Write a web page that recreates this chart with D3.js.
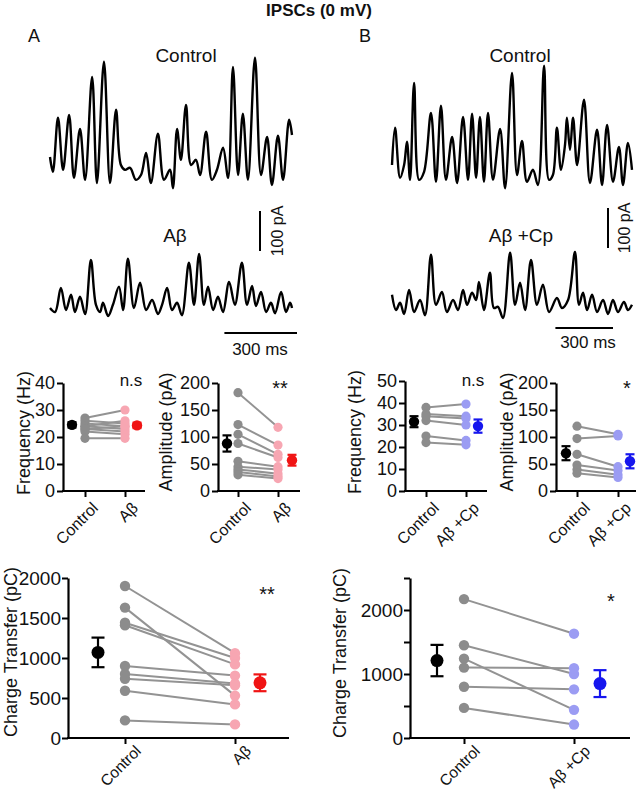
<!DOCTYPE html>
<html><head><meta charset="utf-8">
<script src="https://cdn.jsdelivr.net/npm/d3@7"></script>
<style>
body{margin:0;background:#fff}
svg{display:block}
text{font-family:"Liberation Sans",Arial,Helvetica,sans-serif;fill:#111}
</style>
</head><body>
<svg id="c" width="638" height="793"></svg>
<script>
// ---------------- DATA ----------------
// Example traces: vertices [time ms, current pA]
const traceA_control = [[0,70],[12,33],[33,168],[54,38],[79,175],[99,18],[124,140],[145,13],[174,270],[194,5],[223,308],[248,5],[273,188],[293,50],[310,38],[331,43],[355,13],[376,25],[397,80],[417,5],[446,128],[471,13],[496,38],[508,-8],[525,140],[541,63],[562,200],[583,50],[603,63],[620,25],[645,133],[669,13],[690,38],[715,93],[736,18],[756,295],[777,25],[797,178],[818,13],[847,318],[872,25],[897,120],[917,0],[942,123],[963,13],[988,163],[1000,125]];
const traceA_abeta = [[0,10],[21,0],[45,60],[66,5],[87,43],[103,0],[124,38],[145,-5],[169,130],[190,18],[207,0],[219,23],[240,-10],[260,18],[285,63],[302,5],[322,133],[347,10],[372,73],[397,5],[422,30],[446,-5],[463,18],[484,60],[504,5],[525,23],[545,-8],[574,123],[595,18],[616,145],[636,18],[653,63],[674,5],[694,38],[715,0],[740,75],[764,18],[793,123],[814,18],[835,65],[851,15],[872,50],[893,0],[913,23],[930,-3],[955,50],[975,0],[992,23],[1000,10]];
const traceB_control = [[0,50],[16,143],[42,18],[63,50],[78,108],[94,13],[115,255],[141,13],[167,33],[203,180],[229,8],[255,198],[281,13],[313,120],[339,5],[370,170],[396,13],[417,178],[438,18],[458,170],[479,8],[500,180],[526,13],[563,140],[589,-8],[625,280],[651,25],[677,110],[703,8],[734,38],[760,0],[792,298],[818,13],[838,25],[859,143],[880,38],[901,100],[911,168],[927,88],[943,168],[964,50],[1000,213],[1031,5],[1068,138],[1094,0],[1120,150],[1151,8],[1182,95],[1203,0],[1229,105],[1250,38]];
const traceB_cp = [[0,43],[21,5],[42,23],[63,-5],[89,55],[115,0],[146,30],[172,-8],[203,143],[229,18],[260,50],[286,0],[318,30],[344,5],[370,55],[391,18],[417,48],[438,30],[453,75],[479,5],[510,98],[531,10],[552,13],[578,-15],[615,148],[641,18],[667,73],[693,5],[724,130],[755,18],[786,68],[818,0],[859,35],[885,10],[917,30],[953,150],[974,18],[995,48],[1016,5],[1042,43],[1068,0],[1099,30],[1125,-5],[1151,30],[1177,0],[1208,25],[1229,5],[1250,18]];

const catsA = ["Control", "Aβ"];
const catsB = ["Control", "Aβ +Cp"];

// Panel A
const freqA_control = [27, 26, 25, 24, 24, 23, 23, 22, 19.5];
const freqA_abeta   = [30, 25, 24, 26, 23, 22, 24, 21, 19.5];
const freqA_mean = [24.5, 24.3];
const freqA_sem  = [1.0, 1.0];

const ampA_control = [182, 123, 105, 88, 55, 45, 40, 35, 30];
const ampA_abeta   = [118, 85, 68, 62, 45, 40, 32, 27, 23];
const ampA_mean = [88, 57];
const ampA_sem  = [15, 10];

const chargeA_control = [1900, 1630, 1440, 1410, 900, 800, 740, 590, 220];
const chargeA_abeta   = [1060, 530, 1000, 920, 780, 680, 660, 420, 170];
const chargeA_mean = [1070, 690];
const chargeA_sem  = [185, 105];

// Panel B
const freqB_control = [38, 35, 34, 32, 25, 22];
const freqB_cp      = [39.5, 34, 33, 30, 23, 21];
const freqB_mean = [31.5, 29.5];
const freqB_sem  = [2.5, 3];

const ampB_control = [120, 97, 68, 48, 40, 33];
const ampB_cp      = [105, 102, 45, 38, 30, 25];
const ampB_mean = [70, 55];
const ampB_sem  = [13, 13];

const chargeB_control = [2170, 1450, 1240, 1100, 800, 470];
const chargeB_cp      = [1630, 1000, 440, 1090, 760, 210];
const chargeB_mean = [1210, 850];
const chargeB_sem  = [245, 210];

// tick values
const freqTicksA = [0, 10, 20, 30, 40];
const freqTicksB = [0, 10, 20, 30, 40, 50];
const ampTicks = [0, 50, 100, 150, 200];
const chargeTicksA = [0, 500, 1000, 1500, 2000];
const chargeTicksB = [0, 500, 1000, 1500, 2000, 2500];
const chargeLabelsB = [0, 1000, 2000];

// ---------------- DRAW ----------------
const svg = d3.select("#c");
const FONT = '"Liberation Sans",Arial,Helvetica,sans-serif';

const COL = {
  gray: "#8c8c8c", grayLine: "#939393",
  pink: "#f7a6b2", red: "#f01414",
  lblue: "#9b9cf3", blue: "#1616ee", black: "#000"
};

function txt(x, y, s, size, opts = {}) {
  const t = svg.append("text").attr("x", x).attr("y", y).text(s)
    .attr("font-size", size).attr("text-anchor", opts.anchor || "middle");
  if (opts.weight) t.attr("font-weight", opts.weight);
  if (opts.rotate !== undefined) t.attr("transform", `rotate(${opts.rotate},${x},${y})`);
  return t;
}

// Title & panel letters
txt(319, 16, "IPSCs (0 mV)", 17, {weight: "bold"});
txt(34, 42, "A", 18);
txt(365, 42, "B", 18);

// Traces
function trace(data, cfg) {
  const x = d3.scaleLinear().domain([0, cfg.dur]).range([cfg.x0, cfg.x1]);
  const y = d3.scaleLinear().domain([0, 100]).range([cfg.base, cfg.base - 40]);
  svg.append("path").datum(data)
    .attr("d", d3.line().curve(d3.curveCatmullRom.alpha(0.5)).x(d => x(d[0])).y(d => y(d[1])))
    .attr("fill", "none").attr("stroke", "#000").attr("stroke-width", 2.4)
    .attr("stroke-linejoin", "round");
  return {x, y};
}
const tA1 = trace(traceA_control, {dur: 1000, x0: 50, x1: 292, base: 185});
const tA2 = trace(traceA_abeta,   {dur: 1000, x0: 50, x1: 292, base: 312});
const tB1 = trace(traceB_control, {dur: 1250, x0: 392, x1: 632, base: 185});
const tB2 = trace(traceB_cp,      {dur: 1250, x0: 392, x1: 632, base: 312});

txt(186, 62, "Control", 19);
txt(175, 242, "Aβ", 19);
txt(520, 62, "Control", 19);
txt(521, 242, "Aβ +Cp", 19);

function scaleBars(t, vx, vy, hx1, hy, tx, ty, lx, ly) {
  const vlen = t.y(0) - t.y(100);
  const hlen = t.x(300) - t.x(0);
  svg.append("line").attr("x1", vx).attr("x2", vx).attr("y1", vy).attr("y2", vy + vlen)
    .attr("stroke", "#000").attr("stroke-width", 2);
  svg.append("line").attr("x1", hx1 - hlen).attr("x2", hx1).attr("y1", hy).attr("y2", hy)
    .attr("stroke", "#000").attr("stroke-width", 2);
  txt(tx, ty, "300 ms", 17);
  txt(lx, ly, "100 pA", 16, {rotate: -90});
}
scaleBars(tA2, 260, 211, 297, 333, 260, 355, 283, 231);
scaleBars(tB2, 608, 208, 613, 328, 588, 348, 630, 228);

// Scatter panels
function panel(cfg, cats, ctrl, trt, mean, sem, trtColor, meanColor) {
  const g = svg.append("g");
  const y = d3.scaleLinear().domain([0, cfg.max]).range([cfg.yBot, cfg.yTop]);
  const x = d3.scalePoint().domain(cats).range(cfg.cx);
  const xm = d3.scalePoint().domain(cats).range(cfg.mx);

  // y axis
  const ya = d3.axisLeft(y).tickValues(cfg.ticks).tickSize(6).tickSizeOuter(0).tickPadding(cfg.pad)
    .tickFormat(d => (cfg.labels ? (cfg.labels.includes(d) ? d : "") : d));
  const yg = g.append("g").attr("transform", `translate(${cfg.ax},0)`).call(ya);
  yg.select(".domain").attr("stroke-width", 2.2).attr("stroke", "#000");
  yg.selectAll(".tick line").attr("stroke-width", 2).attr("stroke", "#000");
  yg.selectAll(".tick text").attr("font-size", cfg.fs).attr("font-family", FONT).attr("fill", "#111");

  // x axis
  const xa = d3.axisBottom(x).tickSize(6).tickSizeOuter(0).tickFormat("");
  const xg = g.append("g").attr("transform", `translate(0,${cfg.yBot})`).call(xa);
  xg.select(".domain").remove();
  xg.selectAll(".tick line").attr("stroke-width", 2).attr("stroke", "#000");
  g.append("line").attr("x1", cfg.ax - 1).attr("x2", cfg.xEnd).attr("y1", cfg.yBot).attr("y2", cfg.yBot)
    .attr("stroke", "#000").attr("stroke-width", 2.2);
  cats.forEach(c => {
    const px = x(c) + cfg.ldx, py = cfg.yBot + cfg.ldy;
    g.append("text").attr("x", 0).attr("y", 0).text(c)
      .attr("transform", `translate(${px},${py}) rotate(-45)`)
      .attr("text-anchor", "end").attr("font-size", cfg.lfs);
  });

  // axis title
  g.append("text").attr("x", cfg.titleX).attr("y", cfg.titleY).text(cfg.title)
    .attr("transform", `rotate(-90,${cfg.titleX},${cfg.titleY})`)
    .attr("text-anchor", "middle").attr("font-size", 18);

  // paired lines
  ctrl.forEach((v, i) => {
    g.append("line").attr("x1", x(cats[0])).attr("x2", x(cats[1]))
      .attr("y1", y(v)).attr("y2", y(trt[i]))
      .attr("stroke", COL.grayLine).attr("stroke-width", 2);
  });
  ctrl.forEach(v => g.append("circle").attr("cx", x(cats[0])).attr("cy", y(v)).attr("r", cfg.r).attr("fill", COL.gray));
  trt.forEach(v => g.append("circle").attr("cx", x(cats[1])).attr("cy", y(v)).attr("r", cfg.r).attr("fill", trtColor));

  // mean ± sem
  [0, 1].forEach(i => {
    const c = i === 0 ? COL.black : meanColor;
    const mx = xm(cats[i]);
    const top = y(mean[i] + sem[i]), bot = y(mean[i] - sem[i]);
    g.append("line").attr("x1", mx).attr("x2", mx).attr("y1", top).attr("y2", bot).attr("stroke", c).attr("stroke-width", 2.2);
    [top, bot].forEach(yy => g.append("line").attr("x1", mx - cfg.cap / 2).attr("x2", mx + cfg.cap / 2)
      .attr("y1", yy).attr("y2", yy).attr("stroke", c).attr("stroke-width", 2.2));
    g.append("circle").attr("cx", mx).attr("cy", y(mean[i])).attr("r", cfg.mr).attr("fill", c);
  });

  if (cfg.sig) txt(cfg.sig[0], cfg.sig[1], cfg.sig[2], cfg.sig[3] || 17);
}

const small = {fs: 18, lfs: 16, pad: 2, r: 4.6, mr: 5.2, cap: 9, ldx: 14, ldy: 18};
panel(Object.assign({}, small, {ax: 63, xEnd: 145, cx: [85, 125], mx: [72, 137], yTop: 383, yBot: 491, max: 40,
  ticks: freqTicksA, title: "Frequency (Hz)", titleX: 30, titleY: 433, sig: [131, 386, "n.s"]}),
  catsA, freqA_control, freqA_abeta, freqA_mean, freqA_sem, COL.pink, COL.red);
panel(Object.assign({}, small, {ax: 218, xEnd: 300, cx: [238, 278], mx: [227, 292], yTop: 383, yBot: 491, max: 200,
  ticks: ampTicks, title: "Amplitude (pA)", titleX: 172, titleY: 432, sig: [280, 395, "**", 20]}),
  catsA, ampA_control, ampA_abeta, ampA_mean, ampA_sem, COL.pink, COL.red);
panel(Object.assign({}, small, {ax: 405, xEnd: 487, cx: [426, 466], mx: [414, 478], yTop: 381, yBot: 491, max: 50,
  ticks: freqTicksB, title: "Frequency (Hz)", titleX: 361, titleY: 432, sig: [473, 386, "n.s"]}),
  catsB, freqB_control, freqB_cp, freqB_mean, freqB_sem, COL.lblue, COL.blue);
panel(Object.assign({}, small, {ax: 556, xEnd: 636, cx: [577, 618], mx: [566, 630], yTop: 383, yBot: 491, max: 200,
  ticks: ampTicks, title: "Amplitude (pA)", titleX: 513, titleY: 432, sig: [627, 395, "*", 20]}),
  catsB, ampB_control, ampB_cp, ampB_mean, ampB_sem, COL.lblue, COL.blue);

const big = {fs: 19, lfs: 15.5, pad: 1, r: 5.2, mr: 6.5, cap: 13, ldx: 17, ldy: 14};
panel(Object.assign({}, big, {ax: 68, xEnd: 289, cx: [125, 235], mx: [98, 260], yTop: 578, yBot: 738, max: 2000,
  ticks: chargeTicksA, title: "Charge Transfer (pC)", titleX: 17, titleY: 652, sig: [267, 601, "**", 20]}),
  catsA, chargeA_control, chargeA_abeta, chargeA_mean, chargeA_sem, COL.pink, COL.red);
panel(Object.assign({}, big, {ax: 410, xEnd: 630, cx: [464, 574], mx: [437, 600], yTop: 578, yBot: 738, max: 2500,
  ticks: chargeTicksB, labels: chargeLabelsB, title: "Charge Transfer (pC)", titleX: 346, titleY: 653, sig: [611, 608, "*", 20]}),
  catsB, chargeB_control, chargeB_cp, chargeB_mean, chargeB_sem, COL.lblue, COL.blue);
</script>
</body></html>
